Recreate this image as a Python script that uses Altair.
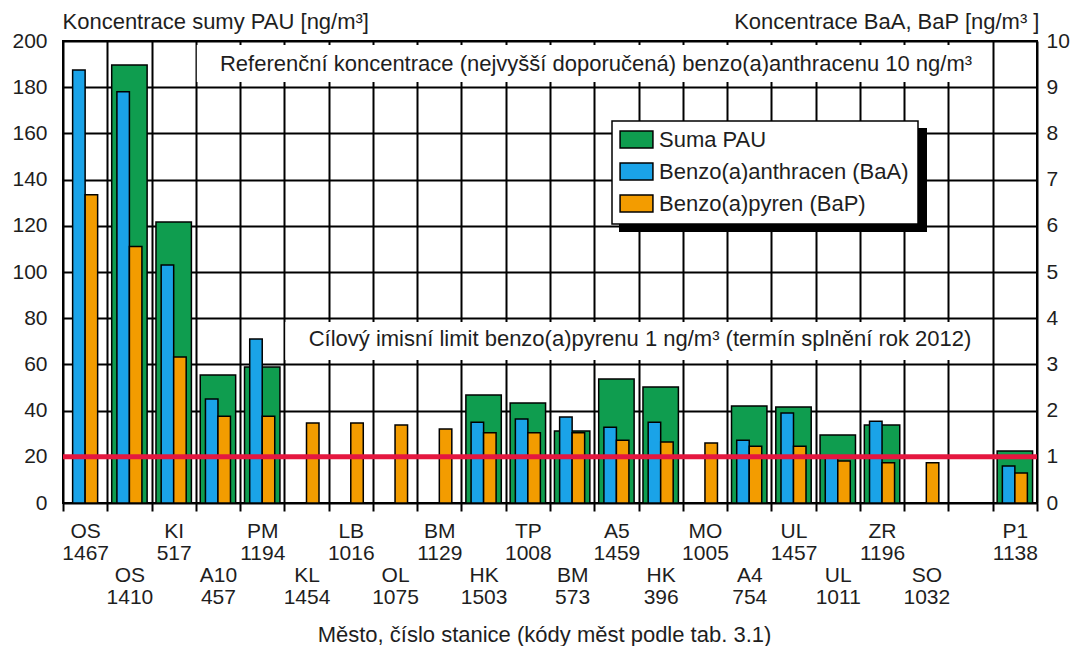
import json
import altair as alt
import pandas as pd

# ---------------- data ----------------
codes = ["OS", "OS", "KI", "A10", "PM", "KL", "LB", "OL", "BM", "HK", "TP",
         "BM", "A5", "HK", "MO", "A4", "UL", "UL", "ZR", "SO", "", "P1"]
numbers = ["1467", "1410", "517", "457", "1194", "1454", "1016", "1075", "1129", "1503", "1008",
           "573", "1459", "396", "1005", "754", "1457", "1011", "1196", "1032", "", "1138"]
label_row = [0, 1, 0, 1, 0, 1, 0, 1, 0, 1, 0, 1, 0, 1, 0, 1, 0, 1, 0, 1, 0, 0]

suma_pau = [None, 189.6, 121.6, 55.4, 58.9, None, None, None, None, 46.8, 43.3,
            31.2, 53.7, 50.2, None, 42.0, 41.6, 29.4, 33.8, None, None, 22.5]
baa = [9.37, 8.9, 5.15, 2.25, 3.55, None, None, None, None, 1.75, 1.82,
       1.86, 1.64, 1.75, None, 1.36, 1.95, 1.0, 1.77, None, None, 0.80]
bap = [6.67, 5.55, 3.16, 1.88, 1.88, 1.73, 1.73, 1.69, 1.60, 1.52, 1.52,
       1.52, 1.36, 1.32, 1.30, 1.23, 1.23, 0.91, 0.87, 0.87, None, 0.65]

series_names = ["Suma PAU", "Benzo(a)anthracen (BaA)", "Benzo(a)pyren (BaP)"]
series_colors = ["#0f9d4f", "#1aa3e8", "#f39c00"]
limit_bap = 1
left_ticks = list(range(0, 201, 20))
right_ticks = list(range(0, 11))

ref_text = "Referenční koncentrace (nejvyšší doporučená) benzo(a)anthracenu 10 ng/m³"
limit_text = "Cílový imisní limit benzo(a)pyrenu 1 ng/m³ (termín splnění rok 2012)"

# ---------------- tables ----------------
n = len(codes)
sum_df = pd.DataFrame({"idx": range(n), "value": suma_pau, "series": series_names[0]}).dropna()
conc_df = pd.concat([
    pd.DataFrame({"idx": range(n), "value": baa, "series": series_names[1]}),
    pd.DataFrame({"idx": range(n), "value": bap, "series": series_names[2]}),
]).dropna()

BLANK = "\u200b"
labels = []
for c, num, r in zip(codes, numbers, label_row):
    if not c:
        labels.append([BLANK, BLANK])
    elif r == 0:
        labels.append([c, num])
    else:
        labels.append([BLANK, BLANK, c, num])

FONT = "Liberation Sans"
TXT = "#1e1e1e"
W, H = 974, 462
step = W / n
BIG = 22

x_axis = alt.Axis(
    title="Město, číslo stanice (kódy měst podle tab. 3.1)",
    labelExpr=json.dumps(labels, ensure_ascii=False) + "[datum.value]",
    labelAngle=0, labelAlign="center", labelBaseline="top",
    labelPadding=9, labelLineHeight=22, labelFontSize=21,
    grid=True, gridColor="black", gridWidth=2, tickBand="extent",
    ticks=True, tickSize=8, tickWidth=2, tickColor="black", domain=False,
    titleX=481, titleY=138, titleAlign="center", titleBaseline="alphabetic",
    titleFontSize=BIG, titleFontWeight="normal",
)
x_enc = alt.X("idx:O", scale=alt.Scale(domain=list(range(n)), paddingInner=0, paddingOuter=0),
              axis=x_axis)

legend = alt.Legend(
    title=None, orient="none", legendX=549, legendY=80, padding=2,
    symbolType="M-1.06,-0.55H1.06V0.55H-1.06Z", symbolSize=961,
    symbolStrokeColor="black", symbolStrokeWidth=1.5, symbolOpacity=1,
    symbolOffset=6, labelOffset=6, labelFontSize=BIG, rowPadding=3, labelColor=TXT,
    labelLimit=400,
)
color_enc = alt.Color("series:N", scale=alt.Scale(domain=series_names, range=series_colors),
                      legend=legend)

left_axis = alt.Axis(
    orient="left", values=left_ticks, grid=True, gridColor="black", gridWidth=2,
    ticks=False, domain=False, labelPadding=16, labelFontSize=21,
    title="Koncentrace sumy PAU [ng/m³]", titleAngle=0, titleX=-1, titleY=-13,
    titleAlign="left", titleBaseline="alphabetic", titleFontSize=BIG, titleFontWeight="normal",
)
right_axis = alt.Axis(
    orient="right", values=right_ticks, grid=False, ticks=False, domain=False,
    labelPadding=9, labelFontSize=21,
    title="Koncentrace BaA, BaP [ng/m³ ]", titleAngle=0, titleX=2, titleY=-13,
    titleAlign="right", titleBaseline="alphabetic", titleFontSize=BIG, titleFontWeight="normal",
)

green = alt.Chart(sum_df).mark_bar(
    width=alt.RelativeBandSize(0.8), stroke="black", strokeWidth=1.5
).encode(
    x=x_enc,
    y=alt.Y("value:Q", scale=alt.Scale(domain=[0, 200], nice=False), axis=left_axis),
    color=color_enc,
)

bars = alt.Chart(conc_df).mark_bar(stroke="black", strokeWidth=1.5).encode(
    x=x_enc,
    xOffset=alt.XOffset("series:N", scale=alt.Scale(domain=series_names[1:], paddingOuter=0.77,
                                                     paddingInner=0)),
    y=alt.Y("value:Q", scale=alt.Scale(domain=[0, 10], nice=False), axis=right_axis),
    color=color_enc,
)

rule = alt.Chart(pd.DataFrame({"lim": [limit_bap]})).mark_rule(
    color="#e5173f", strokeWidth=5
).encode(y=alt.Y("lim:Q"))

one = pd.DataFrame({"a": [0]})
ref_box = alt.Chart(one).mark_rect(fill="white").encode(
    x=alt.value(3 * step + 1), x2=alt.value(21 * step - 1), y=alt.value(4), y2=alt.value(41))
lim_box = alt.Chart(one).mark_rect(fill="white").encode(
    x=alt.value(5 * step + 1), x2=alt.value(21 * step - 1), y=alt.value(281), y2=alt.value(319))
ref_lbl = alt.Chart(one).mark_text(fontSize=BIG, align="center", baseline="alphabetic", color=TXT).encode(
    x=alt.value(533), y=alt.value(30), text=alt.value(ref_text))
lim_lbl = alt.Chart(one).mark_text(fontSize=BIG, align="center", baseline="alphabetic", color=TXT).encode(
    x=alt.value(577), y=alt.value(305), text=alt.value(limit_text))
shadow = alt.Chart(one).mark_rect(fill="black").encode(
    x=alt.value(556), x2=alt.value(864), y=alt.value(87), y2=alt.value(191))
lbox = alt.Chart(one).mark_rect(fill="white", stroke="black", strokeWidth=1.5).encode(
    x=alt.value(549), x2=alt.value(855), y=alt.value(80), y2=alt.value(183))

left_group = alt.layer(green)
right_group = alt.layer(bars, rule, ref_box, lim_box, ref_lbl, lim_lbl, shadow, lbox)

chart = alt.layer(left_group, right_group).resolve_scale(y="independent").properties(
    width=W, height=H,
    autosize=alt.AutoSizeParams(type="none"),
    padding={"left": 55, "top": 33, "right": 34, "bottom": 143},
).configure(font=FONT).configure_view(stroke="black", strokeWidth=2).configure_axis(
    labelColor=TXT, titleColor=TXT, labelFont=FONT, titleFont=FONT
).configure_legend(labelFont=FONT)

chart.save("out.html", embed_options={"renderer": "svg", "actions": False})
